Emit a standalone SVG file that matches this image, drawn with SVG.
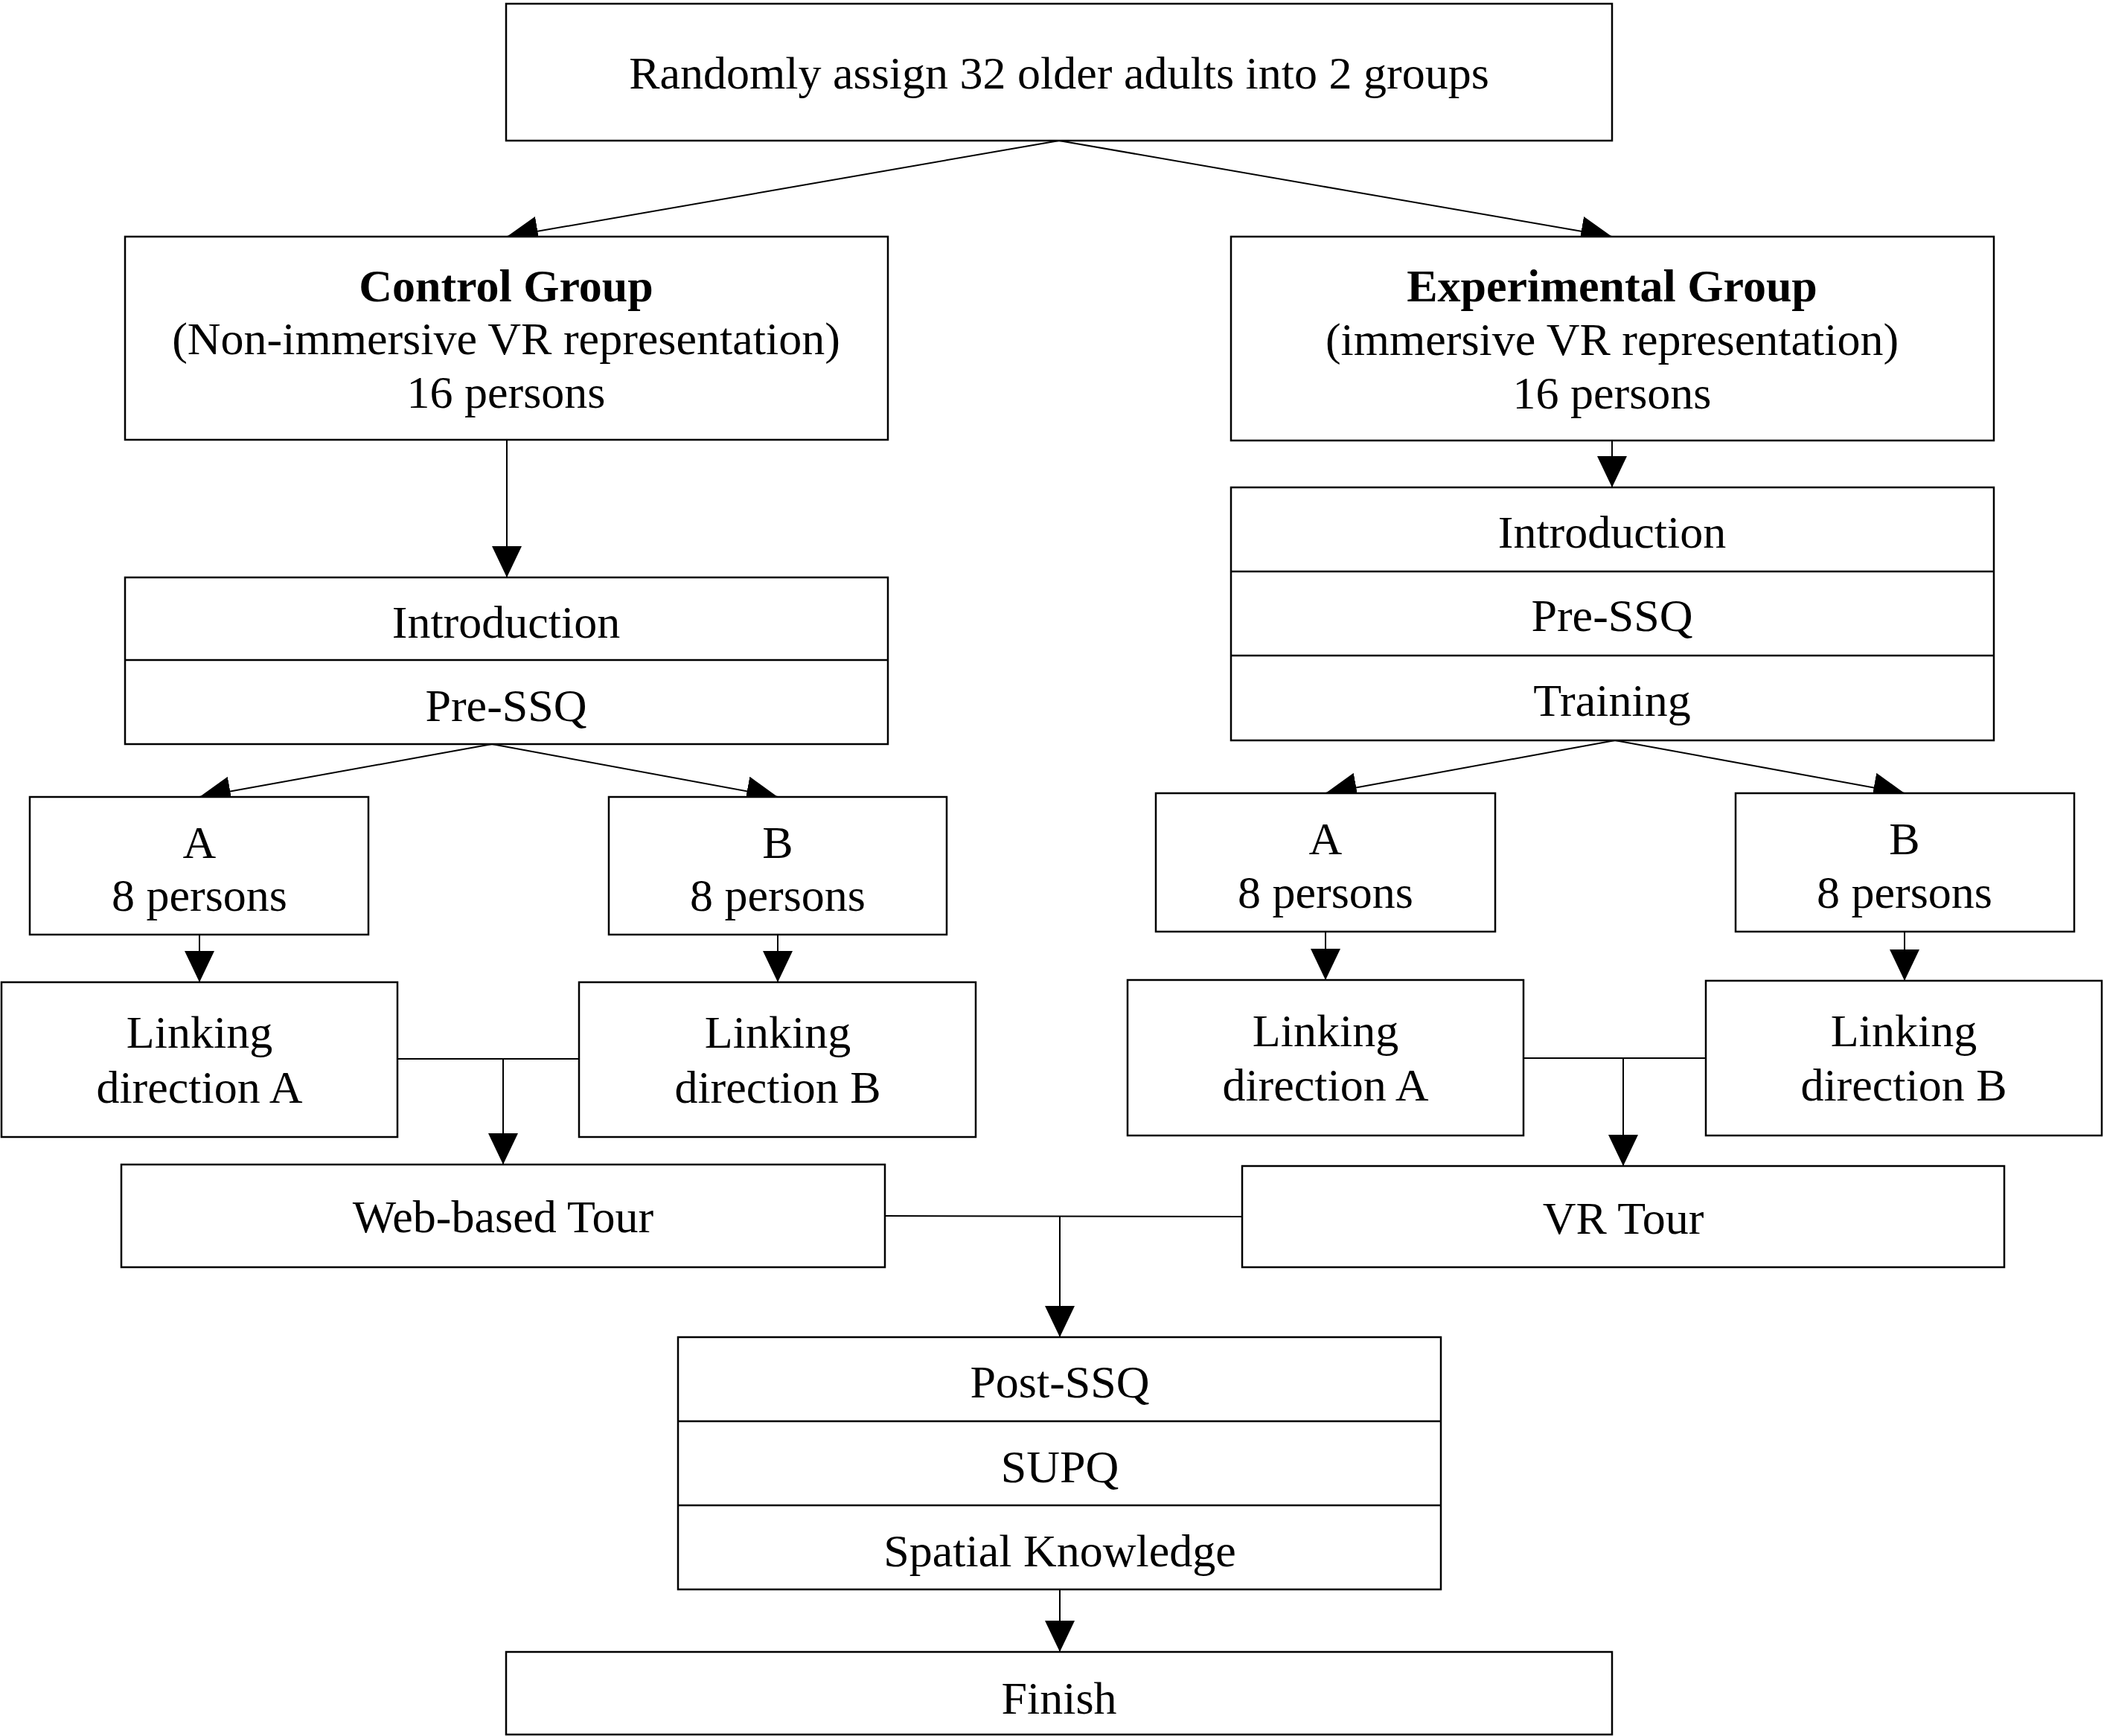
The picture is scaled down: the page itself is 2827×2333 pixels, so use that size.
<svg xmlns="http://www.w3.org/2000/svg" width="2827" height="2333" viewBox="0 0 2827 2333">
<defs>
<style>
.box{fill:#fff;stroke:#000;stroke-width:2.5}
.div{stroke:#000;stroke-width:2.5}
.t{font-family:"Liberation Serif","Times New Roman",serif;font-size:62px;fill:#000;text-anchor:middle}
.b{font-weight:bold}
.c{fill:none;stroke:#000;stroke-width:2}
.a{marker-end:url(#ah)}
</style>
<marker id="ah" markerUnits="userSpaceOnUse" markerWidth="42" markerHeight="40" refX="42" refY="20" orient="auto" viewBox="0 0 42 40">
<path d="M0,0 L42,20 L0,40 Z" fill="#000"/>
</marker>
</defs>
<rect width="2827" height="2333" fill="#fff"/>

<g id="connectors">
<line class="c a" x1="1423" y1="189" x2="681" y2="318"/>
<line class="c a" x1="1423" y1="189" x2="2166" y2="318"/>
<line class="c a" x1="681" y1="591" x2="681" y2="776"/>
<line class="c a" x1="2166" y1="592" x2="2166" y2="655"/>
<line class="c a" x1="661" y1="1000" x2="268" y2="1071"/>
<line class="c a" x1="661" y1="1000" x2="1045" y2="1071"/>
<line class="c a" x1="2170" y1="995" x2="1781" y2="1066"/>
<line class="c a" x1="2170" y1="995" x2="2559" y2="1066"/>
<line class="c a" x1="268" y1="1256" x2="268" y2="1320"/>
<line class="c a" x1="1045" y1="1256" x2="1045" y2="1320"/>
<line class="c a" x1="1781" y1="1252" x2="1781" y2="1317"/>
<line class="c a" x1="2559" y1="1252" x2="2559" y2="1318"/>
<line class="c" x1="534" y1="1423" x2="778" y2="1423"/>
<line class="c a" x1="676" y1="1423" x2="676" y2="1565"/>
<line class="c" x1="2047" y1="1422" x2="2292" y2="1422"/>
<line class="c a" x1="2181" y1="1422" x2="2181" y2="1567"/>
<line class="c" x1="1189" y1="1634" x2="1669" y2="1635"/>
<line class="c a" x1="1424" y1="1634" x2="1424" y2="1797"/>
<line class="c a" x1="1424" y1="2136" x2="1424" y2="2220"/>
</g>

<g id="start">
<rect class="box" x="680" y="5" width="1486" height="184"/>
<text class="t" x="1423" y="119">Randomly assign 32 older adults into 2 groups</text>
</g>

<g id="control-group">
<rect class="box" x="168" y="318" width="1025" height="273"/>
<text class="t b" x="680" y="405">Control Group</text>
<text class="t" x="680" y="476">(Non-immersive VR representation)</text>
<text class="t" x="680" y="548">16 persons</text>
</g>

<g id="experimental-group">
<rect class="box" x="1654" y="318" width="1025" height="274"/>
<text class="t b" x="2166" y="405">Experimental Group</text>
<text class="t" x="2166" y="477">(immersive VR representation)</text>
<text class="t" x="2166" y="549">16 persons</text>
</g>

<g id="control-intro">
<rect class="box" x="168" y="776" width="1025" height="224"/>
<line class="div" x1="168" y1="887" x2="1193" y2="887"/>
<text class="t" x="680" y="857">Introduction</text>
<text class="t" x="680" y="969">Pre-SSQ</text>
</g>

<g id="exp-intro">
<rect class="box" x="1654" y="655" width="1025" height="340"/>
<line class="div" x1="1654" y1="768" x2="2679" y2="768"/>
<line class="div" x1="1654" y1="881" x2="2679" y2="881"/>
<text class="t" x="2166" y="736">Introduction</text>
<text class="t" x="2166" y="848">Pre-SSQ</text>
<text class="t" x="2166" y="962">Training</text>
</g>

<g id="control-a">
<rect class="box" x="40" y="1071" width="455" height="185"/>
<text class="t" x="268" y="1153">A</text>
<text class="t" x="268" y="1224">8 persons</text>
</g>

<g id="control-b">
<rect class="box" x="818" y="1071" width="454" height="185"/>
<text class="t" x="1045" y="1153">B</text>
<text class="t" x="1045" y="1224">8 persons</text>
</g>

<g id="exp-a">
<rect class="box" x="1553" y="1066" width="456" height="186"/>
<text class="t" x="1781" y="1148">A</text>
<text class="t" x="1781" y="1220">8 persons</text>
</g>

<g id="exp-b">
<rect class="box" x="2332" y="1066" width="455" height="186"/>
<text class="t" x="2559" y="1148">B</text>
<text class="t" x="2559" y="1220">8 persons</text>
</g>

<g id="control-linking-a">
<rect class="box" x="2" y="1320" width="532" height="208"/>
<text class="t" x="268" y="1408">Linking</text>
<text class="t" x="268" y="1482">direction A</text>
</g>

<g id="control-linking-b">
<rect class="box" x="778" y="1320" width="533" height="208"/>
<text class="t" x="1045" y="1408">Linking</text>
<text class="t" x="1045" y="1482">direction B</text>
</g>

<g id="exp-linking-a">
<rect class="box" x="1515" y="1317" width="532" height="209"/>
<text class="t" x="1781" y="1406">Linking</text>
<text class="t" x="1781" y="1479">direction A</text>
</g>

<g id="exp-linking-b">
<rect class="box" x="2292" y="1318" width="532" height="208"/>
<text class="t" x="2558" y="1406">Linking</text>
<text class="t" x="2558" y="1479">direction B</text>
</g>

<g id="web-tour">
<rect class="box" x="163" y="1565" width="1026" height="138"/>
<text class="t" x="676" y="1656">Web-based Tour</text>
</g>

<g id="vr-tour">
<rect class="box" x="1669" y="1567" width="1024" height="136"/>
<text class="t" x="2181" y="1658">VR Tour</text>
</g>

<g id="post">
<rect class="box" x="911" y="1797" width="1025" height="339"/>
<line class="div" x1="911" y1="1910" x2="1936" y2="1910"/>
<line class="div" x1="911" y1="2023" x2="1936" y2="2023"/>
<text class="t" x="1424" y="1878">Post-SSQ</text>
<text class="t" x="1424" y="1992">SUPQ</text>
<text class="t" x="1424" y="2105">Spatial Knowledge</text>
</g>

<g id="finish">
<rect class="box" x="680" y="2220" width="1486" height="111"/>
<text class="t" x="1423" y="2303">Finish</text>
</g>
</svg>
